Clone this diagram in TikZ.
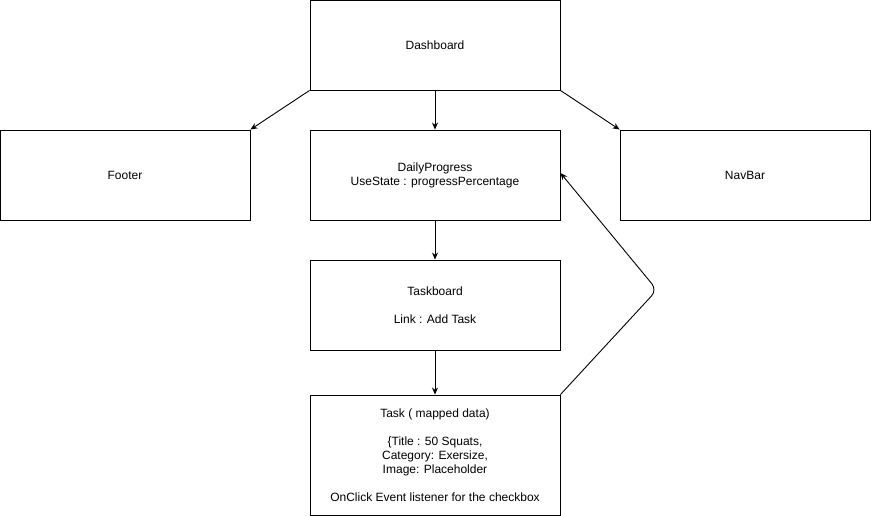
\documentclass[tikz,border=0pt]{standalone}
\usepackage{fontspec}
\setmainfont{Liberation Sans}
\usetikzlibrary{arrows.meta}
\begin{document}
\begin{tikzpicture}[x=1pt,y=-1pt,
  box/.style={draw=black,line width=0.9pt,minimum width=250pt,minimum height=90pt,inner sep=0pt,align=center,font=\fontsize{12}{14}\selectfont},
  arr/.style={draw=black,line width=0.9pt,-{Stealth[length=7pt,width=6pt]}}]
\useasboundingbox (0,0) rectangle (871,516);
\node[box] (dash) at (435,45) {Dashboard};
\node[box] (foot) at (125,175) {Footer};
\node[box] (daily) at (435,175) {DailyProgress\\UseState : progressPercentage};
\node[box] (nav) at (745,175) {NavBar};
\node[box] (tb) at (435,305) {Taskboard\\[14pt]Link : Add Task};
\node[box,minimum height=120pt] (task) at (435,455) {Task ( mapped data)\\[14pt]\{Title : 50 Squats,\\Category: Exersize,\\Image: Placeholder\\[14pt]OnClick Event listener for the checkbox};
\coordinate (bend) at (657,290);
\draw[arr] (dash.south west) -- (foot.north east);
\draw[arr] (dash.south) -- (daily.north);
\draw[arr] (dash.south east) -- (nav.north west);
\draw[arr] (daily.south) -- (tb.north);
\draw[arr] (tb.south) -- (task.north);
\draw[arr,rounded corners=8pt] (task.north east) -- (bend) -- ([yshift=2pt]daily.east);
\end{tikzpicture}
\end{document}
